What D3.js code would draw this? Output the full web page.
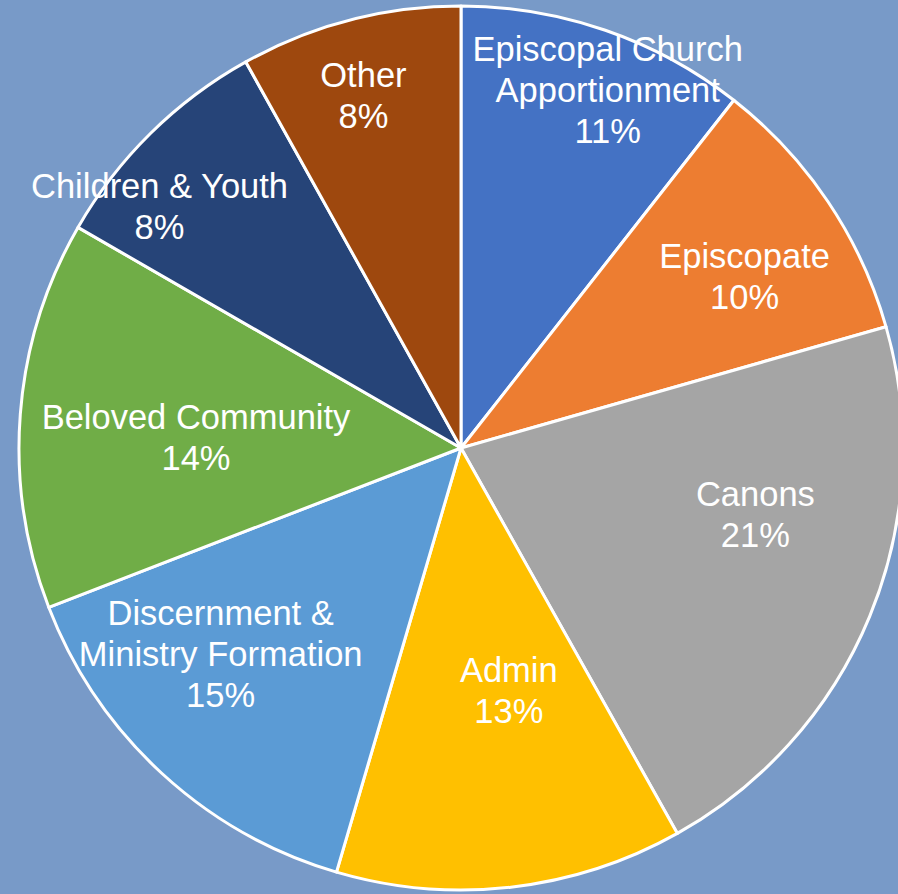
<!DOCTYPE html>
<html>
<head>
<meta charset="utf-8">
<script src="https://cdn.jsdelivr.net/npm/d3@7"></script>
<style>
  html, body { margin: 0; padding: 0; background: #789AC8; overflow: hidden; }
  svg { display: block; }
</style>
</head>
<body>
<svg id="chart" width="898" height="894"></svg>
<script>
// ---- data ----
const categories = ["Episcopal Church Apportionment", "Episcopate", "Canons", "Admin",
  "Discernment & Ministry Formation", "Beloved Community", "Children & Youth", "Other"];
const labelLines = [["Episcopal Church", "Apportionment"], ["Episcopate"], ["Canons"], ["Admin"],
  ["Discernment &", "Ministry Formation"], ["Beloved Community"], ["Children & Youth"], ["Other"]];
const values = [10.6, 10.0, 21.3, 12.7, 14.6, 14.2, 8.6, 8.1];
const percentLabels = ["11%", "10%", "21%", "13%", "15%", "14%", "8%", "8%"];
const colors = ["#4472C4", "#ED7D31", "#A5A5A5", "#FFC000", "#5B9BD5", "#70AD47", "#264478", "#9E480E"];

// ---- layout (label placement, best-fit style) ----
const labelRadiusFrac = [0.876, 0.75, 0.683, 0.558, 0.716, 0.60, 0.874, 0.828];
const labelAngleShiftDeg = [3.2, 2.7, -9.6, -4.7, 6.8, -2.2, -6.7, -0.9];

const W = 898, H = 894;
const cx = 461, cy = 448, R = 442;
const fontSize = 34.5, lineH = 41;

const svg = d3.select("#chart");
const g = svg.append("g").attr("transform", `translate(${cx},${cy})`);

const data = categories.map((c, i) => ({ name: c, value: values[i], i }));
const pie = d3.pie().sort(null).value(d => d.value);
const arcs = pie(data);
const arc = d3.arc().innerRadius(0).outerRadius(R);

g.selectAll("path.slice").data(arcs).join("path")
  .attr("class", "slice")
  .attr("d", arc)
  .attr("fill", d => colors[d.data.i])
  .attr("stroke", "#FFFFFF")
  .attr("stroke-width", 3)
  .attr("stroke-linejoin", "round");

const labels = g.selectAll("g.label").data(arcs).join("g")
  .attr("class", "label")
  .attr("transform", d => {
    const i = d.data.i;
    const a = (d.startAngle + d.endAngle) / 2 + labelAngleShiftDeg[i] * Math.PI / 180;
    const r = R * labelRadiusFrac[i];
    return `translate(${r * Math.sin(a)},${-r * Math.cos(a)})`;
  });

labels.each(function(d) {
  const i = d.data.i;
  const lines = labelLines[i].concat([percentLabels[i]]);
  const n = lines.length;
  const t = d3.select(this).append("text")
    .attr("text-anchor", "middle")
    .attr("fill", "#FFFFFF")
    .attr("font-family", "'Liberation Sans', Arial, sans-serif")
    .attr("font-size", fontSize);
  lines.forEach((ln, k) => {
    t.append("tspan")
      .attr("x", 0)
      .attr("y", (k - (n - 1) / 2) * lineH)
      .attr("dy", "0.35em")
      .text(ln);
  });
});
</script>
</body>
</html>
